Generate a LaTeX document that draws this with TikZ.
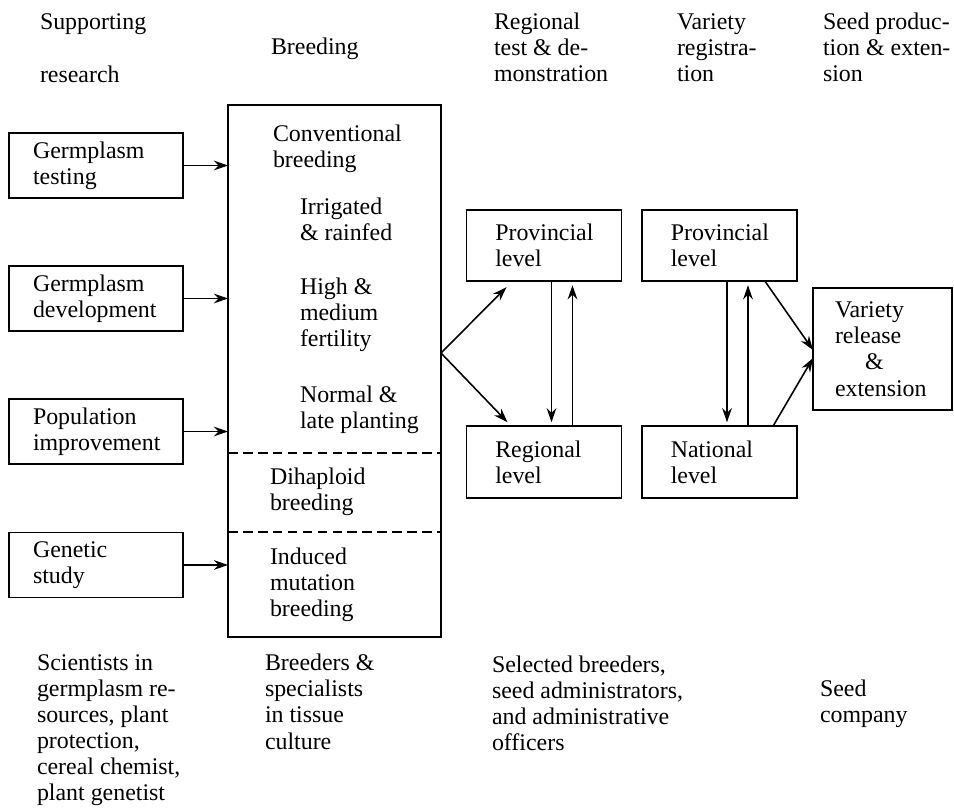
\documentclass[tikz,border=0pt]{standalone}
\usepackage{fontspec}
\setmainfont{Liberation Serif}
\usetikzlibrary{arrows.meta}
\hyphenpenalty=10000
\exhyphenpenalty=10000

\begin{document}
\begin{tikzpicture}[
    x=0.02cm, y=-0.02cm,
    font=\fontsize{13.6}{14.9}\selectfont,
    every node/.style={inner sep=0pt, outer sep=0pt},
    box/.style={draw, line width=0.9pt, align=left, inner xsep=0.48cm,
                text width=2.52cm, minimum height=1.3cm},
    lvl/.style={box, inner xsep=0.575cm, text width=1.95cm, minimum height=1.43cm},
    txt/.style={anchor=base west, align=left},
    link/.style={-{Stealth[length=8pt, width=5.5pt]}, line width=0.9pt},
    sep/.style={line width=0.9pt, dash pattern=on 5.5pt off 3pt}]

\useasboundingbox (0,0) rectangle (954,810);

% column heads (placed at the baseline of their last line)
\node[txt] (hsup)  at (40,30)  {Supporting};
\node[txt] (hres)  at (40,83)  {research};
\node[txt] (hbre)  at (271,55) {Breeding};
\node[txt] (hreg)  at (494,82) {Regional\\test \& de-\\monstration};
\node[txt] (hvar)  at (677,82) {Variety\\registra-\\tion};
\node[txt] (hseed) at (823,82) {Seed produc-\\tion \& exten-\\sion};

% supporting research
\node[box] (gtest) at (96,165.5) {Germplasm\\testing};
\node[box] (gdev)  at (96,298.5) {Germplasm\\development};
\node[box] (pimp)  at (96,431.5) {Population\\improvement};
\node[box] (gen)   at (96,565)   {Genetic\\study};

% breeding
\node[draw, line width=0.9pt, minimum width=4.26cm, minimum height=10.64cm] (breed) at (334.5,371) {};
\node[txt] (conv) at (273,168) {Conventional\\breeding};
\node[txt] (irr)  at (300,241) {Irrigated\\\& rainfed};
\node[txt] (fert) at (300,347) {High \&\\medium\\fertility};
\node[txt] (plnt) at (300,429) {Normal \&\\late planting};
\node[txt] (diha) at (270,511) {Dihaploid\\breeding};
\node[txt] (muta) at (270,617) {Induced\\mutation\\breeding};
\draw[sep] (breed.west |- 0,453) -- (breed.east |- 0,453);
\draw[sep] (breed.west |- 0,532) -- (breed.east |- 0,532);

% test and registration
\node[lvl] (prov) at (544,245.5)   {Provincial\\level};
\node[lvl] (reg)  at (544,462)     {Regional\\level};
\node[lvl] (vprov) at (719.5,245.5) {Provincial\\level};
\node[lvl] (nat)  at (719.5,462)   {National\\level};
\node[box, inner xsep=0.44cm, text width=1.9cm, minimum height=2.44cm] (rel) at (882.5,349)
    {Variety\\release\\\hspace*{0.6cm}\&\\extension};

% groups of people
\node[txt] (psci) at (37,801)  {Scientists in\\germplasm re-\\sources, plant\\protection,\\cereal chemist,\\plant genetist};
\node[txt] (pbre) at (265,749) {Breeders \&\\specialists\\in tissue\\culture};
\node[txt] (psel) at (492,751) {Selected breeders,\\seed administrators,\\and administrative\\officers};
\node[txt] (pcom) at (820,723) {Seed\\company};

% arrows
\foreach \s in {gtest,gdev,pimp,gen}
    \draw[link] (\s) -- (\s -| breed.west);
\coordinate (split) at (breed.east |- 0,353);
\draw[link] (split) -- ([xshift=0.8cm, yshift=-0.12cm]prov.south west);
\draw[link] (split) -- ([xshift=0.82cm, yshift=0.08cm]reg.north west);
\draw[link] ([xshift=1.7cm]prov.south west) -- ([xshift=1.7cm, yshift=0.08cm]reg.north west);
\draw[link] ([xshift=2.12cm]reg.north west) -- ([xshift=2.12cm, yshift=-0.08cm]prov.south west);
\draw[link] ([xshift=1.7cm]vprov.south west) -- ([xshift=1.7cm, yshift=0.08cm]nat.north west);
\draw[link] ([xshift=2.12cm]nat.north west) -- ([xshift=2.12cm, yshift=-0.08cm]vprov.south west);
\draw[link] ([xshift=2.46cm]vprov.south west) -- ([yshift=-0.02cm]rel.west);
\draw[link] ([xshift=2.62cm]nat.north west) -- ([yshift=-0.18cm]rel.west);

\end{tikzpicture}
\end{document}
